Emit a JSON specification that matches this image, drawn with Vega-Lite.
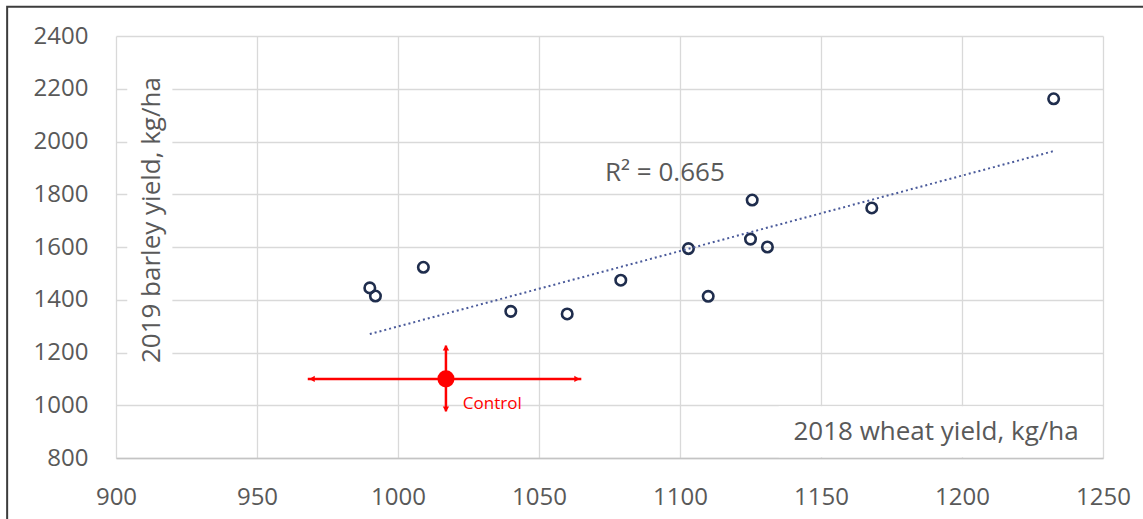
{
  "$schema": "https://vega.github.io/schema/vega-lite/v6.json",
  "width": 987,
  "height": 422,
  "autosize": {"type": "none"},
  "padding": {"left": 116, "top": 36, "right": 40, "bottom": 61},
  "background": "white",
  "config": {
    "view": {"stroke": null},
    "font": "Open Sans",
    "axis": {"title": null, "grid": true, "gridColor": "#d9d9d9", "gridWidth": 1.3, "ticks": false,
      "labelFont": "Open Sans", "labelFontSize": 24, "labelColor": "#595959", "labelFlush": false},
    "axisX": {"domain": true, "domainColor": "#c4c4c4", "domainWidth": 1.3, "labelPadding": 27},
    "axisY": {"domain": false, "labelPadding": 28}
  },
  "datasets": {
    "points": [
      {"wheat": 990, "barley": 1445},
      {"wheat": 992, "barley": 1414},
      {"wheat": 1009, "barley": 1523},
      {"wheat": 1040, "barley": 1356},
      {"wheat": 1060, "barley": 1346},
      {"wheat": 1079, "barley": 1474},
      {"wheat": 1103, "barley": 1594},
      {"wheat": 1110, "barley": 1413},
      {"wheat": 1125, "barley": 1630},
      {"wheat": 1125.6, "barley": 1778},
      {"wheat": 1131, "barley": 1600},
      {"wheat": 1168, "barley": 1748},
      {"wheat": 1232.5, "barley": 2162}
    ],
    "trend": [
      {"wheat": 990, "barley": 1270},
      {"wheat": 1233, "barley": 1965}
    ],
    "control": [
      {"wheat": 1017, "barley": 1100, "xlo": 968, "xhi": 1065, "ylo": 977, "yhi": 1226}
    ],
    "arrows": [
      {"wheat": 969.5, "barley": 1100, "dir": "left"},
      {"wheat": 1063.5, "barley": 1100, "dir": "right"},
      {"wheat": 1017, "barley": 1218, "dir": "up"},
      {"wheat": 1017, "barley": 985, "dir": "down"}
    ]
  },
  "layer": [
    {
      "data": {"name": "points"},
      "mark": {"type": "point", "shape": "circle", "filled": false, "size": 110, "strokeWidth": 2.6, "color": "#1f2d4d", "opacity": 1},
      "encoding": {
        "x": {"field": "wheat", "type": "quantitative",
          "scale": {"domain": [900, 1250], "nice": false, "zero": false},
          "axis": {"title": null, "format": "d", "values": [900, 950, 1000, 1050, 1100, 1150, 1200, 1250]}},
        "y": {"field": "barley", "type": "quantitative",
          "scale": {"domain": [800, 2400], "nice": false, "zero": false},
          "axis": {"title": null, "format": "d", "values": [800, 1000, 1200, 1400, 1600, 1800, 2000, 2200, 2400]}}
      }
    },
    {
      "data": {"name": "control"},
      "mark": {"type": "rect", "fillOpacity": 0, "stroke": "#3c3c3c", "strokeWidth": 2, "clip": false},
      "encoding": {
        "x": {"datum": 861.4, "type": "quantitative", "axis": {"title": null, "format": "d", "values": [900, 950, 1000, 1050, 1100, 1150, 1200, 1250]}},
        "x2": {"datum": 1400},
        "y": {"datum": 2511, "type": "quantitative", "axis": {"title": null, "format": "d", "values": [800, 1000, 1200, 1400, 1600, 1800, 2000, 2200, 2400]}},
        "y2": {"datum": 450}
      }
    },
    {
      "data": {"name": "control"},
      "mark": {"type": "rect", "color": "white", "opacity": 1},
      "encoding": {
        "x": {"datum": 904, "type": "quantitative", "axis": {"title": null, "format": "d", "values": [900, 950, 1000, 1050, 1100, 1150, 1200, 1250]}},
        "x2": {"datum": 920},
        "y": {"datum": 1130, "type": "quantitative", "axis": {"title": null, "format": "d", "values": [800, 1000, 1200, 1400, 1600, 1800, 2000, 2200, 2400]}},
        "y2": {"datum": 2350}
      }
    },
    {
      "data": {"name": "control"},
      "mark": {"type": "rect", "color": "white", "opacity": 1},
      "encoding": {
        "x": {"datum": 1135, "type": "quantitative", "axis": {"title": null, "format": "d", "values": [900, 950, 1000, 1050, 1100, 1150, 1200, 1250]}},
        "x2": {"datum": 1249.5},
        "y": {"datum": 803, "type": "quantitative", "axis": {"title": null, "format": "d", "values": [800, 1000, 1200, 1400, 1600, 1800, 2000, 2200, 2400]}},
        "y2": {"datum": 996}
      }
    },
    {
      "data": {"name": "trend"},
      "mark": {"type": "line", "color": "#4a5a9a", "strokeWidth": 2, "strokeDash": [2, 3]},
      "encoding": {
        "x": {"field": "wheat", "type": "quantitative", "axis": {"title": null, "format": "d", "values": [900, 950, 1000, 1050, 1100, 1150, 1200, 1250]}},
        "y": {"field": "barley", "type": "quantitative", "axis": {"title": null, "format": "d", "values": [800, 1000, 1200, 1400, 1600, 1800, 2000, 2200, 2400]}}
      }
    },
    {
      "data": {"name": "control"},
      "mark": {"type": "rule", "color": "#ff0000", "strokeWidth": 2.5},
      "encoding": {
        "x": {"field": "xlo", "type": "quantitative", "axis": {"title": null, "format": "d", "values": [900, 950, 1000, 1050, 1100, 1150, 1200, 1250]}},
        "x2": {"field": "xhi"},
        "y": {"field": "barley", "type": "quantitative", "axis": {"title": null, "format": "d", "values": [800, 1000, 1200, 1400, 1600, 1800, 2000, 2200, 2400]}}
      }
    },
    {
      "data": {"name": "control"},
      "mark": {"type": "rule", "color": "#ff0000", "strokeWidth": 2.5},
      "encoding": {
        "x": {"field": "wheat", "type": "quantitative", "axis": {"title": null, "format": "d", "values": [900, 950, 1000, 1050, 1100, 1150, 1200, 1250]}},
        "y": {"field": "ylo", "type": "quantitative", "axis": {"title": null, "format": "d", "values": [800, 1000, 1200, 1400, 1600, 1800, 2000, 2200, 2400]}},
        "y2": {"field": "yhi"}
      }
    },
    {
      "data": {"name": "arrows"},
      "mark": {"type": "point", "filled": true, "size": 40, "color": "#ff0000", "opacity": 1},
      "encoding": {
        "x": {"field": "wheat", "type": "quantitative", "axis": {"title": null, "format": "d", "values": [900, 950, 1000, 1050, 1100, 1150, 1200, 1250]}},
        "y": {"field": "barley", "type": "quantitative", "axis": {"title": null, "format": "d", "values": [800, 1000, 1200, 1400, 1600, 1800, 2000, 2200, 2400]}},
        "shape": {"field": "dir", "type": "nominal", "legend": null,
          "scale": {"domain": ["left", "right", "up", "down"], "range": ["triangle-left", "triangle-right", "triangle-up", "triangle-down"]}}
      }
    },
    {
      "data": {"name": "control"},
      "mark": {"type": "point", "filled": true, "size": 290, "shape": "circle", "color": "#ff0000", "opacity": 1},
      "encoding": {
        "x": {"field": "wheat", "type": "quantitative", "axis": {"title": null, "format": "d", "values": [900, 950, 1000, 1050, 1100, 1150, 1200, 1250]}},
        "y": {"field": "barley", "type": "quantitative", "axis": {"title": null, "format": "d", "values": [800, 1000, 1200, 1400, 1600, 1800, 2000, 2200, 2400]}}
      }
    },
    {
      "data": {"name": "control"},
      "mark": {"type": "text", "text": "Control", "color": "#ff0000", "fontSize": 17, "font": "Open Sans", "align": "left", "baseline": "middle"},
      "encoding": {
        "x": {"datum": 1023, "type": "quantitative", "axis": {"title": null, "format": "d", "values": [900, 950, 1000, 1050, 1100, 1150, 1200, 1250]}},
        "y": {"datum": 1005, "type": "quantitative", "axis": {"title": null, "format": "d", "values": [800, 1000, 1200, 1400, 1600, 1800, 2000, 2200, 2400]}}
      }
    },
    {
      "data": {"name": "control"},
      "mark": {"type": "text", "text": "R² = 0.665", "color": "#595959", "fontSize": 26, "font": "Open Sans", "align": "left", "baseline": "middle"},
      "encoding": {
        "x": {"datum": 1073.4, "type": "quantitative", "axis": {"title": null, "format": "d", "values": [900, 950, 1000, 1050, 1100, 1150, 1200, 1250]}},
        "y": {"datum": 1880, "type": "quantitative", "axis": {"title": null, "format": "d", "values": [800, 1000, 1200, 1400, 1600, 1800, 2000, 2200, 2400]}}
      }
    },
    {
      "data": {"name": "control"},
      "mark": {"type": "text", "text": "2019 barley yield, kg/ha", "color": "#595959", "fontSize": 26, "font": "Open Sans", "align": "center", "baseline": "middle", "angle": -90},
      "encoding": {
        "x": {"datum": 912.8, "type": "quantitative", "axis": {"title": null, "format": "d", "values": [900, 950, 1000, 1050, 1100, 1150, 1200, 1250]}},
        "y": {"datum": 1702, "type": "quantitative", "axis": {"title": null, "format": "d", "values": [800, 1000, 1200, 1400, 1600, 1800, 2000, 2200, 2400]}}
      }
    },
    {
      "data": {"name": "control"},
      "mark": {"type": "text", "text": "2018 wheat yield, kg/ha", "color": "#595959", "fontSize": 26, "font": "Open Sans", "align": "center", "baseline": "middle"},
      "encoding": {
        "x": {"datum": 1190.8, "type": "quantitative", "axis": {"title": null, "format": "d", "values": [900, 950, 1000, 1050, 1100, 1150, 1200, 1250]}},
        "y": {"datum": 898, "type": "quantitative", "axis": {"title": null, "format": "d", "values": [800, 1000, 1200, 1400, 1600, 1800, 2000, 2200, 2400]}}
      }
    }
  ]
}
